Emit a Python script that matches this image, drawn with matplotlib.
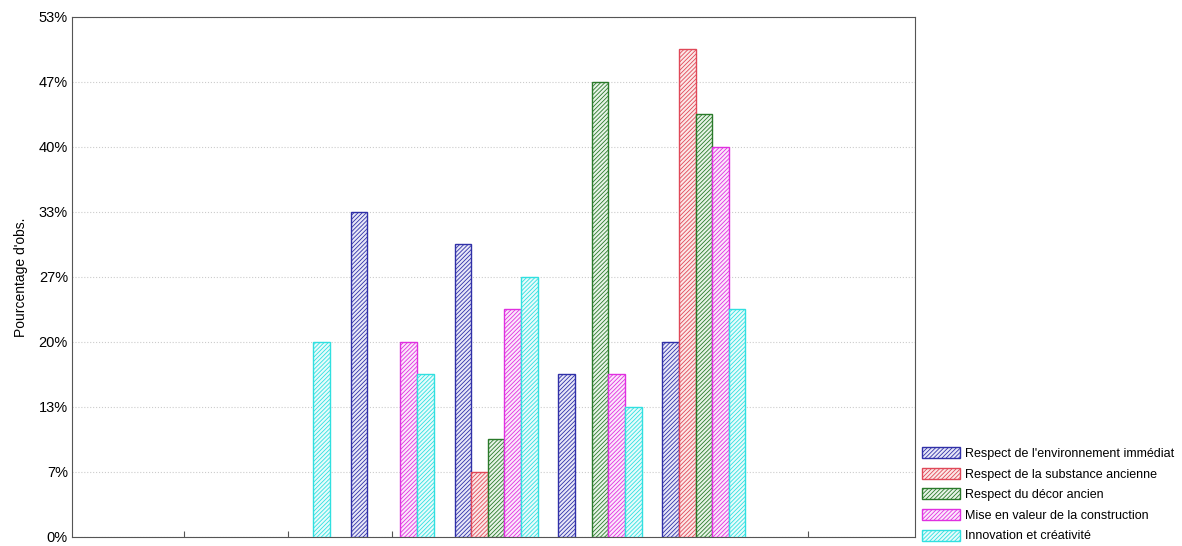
import numpy as np
import matplotlib
matplotlib.use("Agg")
import matplotlib.pyplot as plt

plt.rcParams['font.family'] = ['Liberation Sans', 'DejaVu Sans']
plt.rcParams['hatch.linewidth'] = 0.6

# category positions (7 ticks, the outer ones empty)
cats = [0, 1, 2, 3, 4, 5, 6]
series = ["Respect de l'environnement immédiat",
          "Respect de la substance ancienne",
          "Respect du décor ancien",
          "Mise en valeur de la construction",
          "Innovation et créativité"]
env   = [0, 0, 33.33, 30.00, 16.67, 20.00, 0]
subst = [0, 0, 0,     6.67,  0,     50.00, 0]
decor = [0, 0, 0,     10.00, 46.67, 43.33, 0]
mise  = [0, 0, 20.00, 23.33, 16.67, 40.00, 0]
innov = [0, 20.00, 16.67, 26.67, 13.33, 23.33, 0]
values = [env, subst, decor, mise, innov]
edge = ["#3030a8", "#e04858", "#2a7a2a", "#e030e0", "#30e0e0"]
face = ["#e8e8f8", "#fbe8e8", "#e8f4e8", "#fbe8fb", "#e8fbfb"]

fig = plt.figure(figsize=(11.82, 5.46), dpi=100)
ax = fig.add_axes([0.061, 0.0165, 0.713, 0.9525])

w = 0.16
x = np.array(cats)
for i, (name, v) in enumerate(zip(series, values)):
    v = np.array(v, dtype=float)
    m = v > 0
    ax.bar(x[m] + (i - 2) * w, v[m], width=w, facecolor=face[i], edgecolor=edge[i],
           hatch="////////", linewidth=1.0, label=name, zorder=3)

ax.set_xlim(-1.08, 7.03)
ax.set_ylim(0, 160 / 3)
yt = np.arange(9) * 20 / 3
ax.set_yticks(yt)
ax.set_yticklabels([f"{round(t)}%" for t in yt], fontsize=10.5)
ax.set_xticks(cats)
ax.set_xticklabels([])
ax.tick_params(axis="x", direction="in", length=4, color="#555555")
ax.tick_params(axis="y", length=0, pad=3)
ax.yaxis.grid(True, color="#cccccc", linestyle=":", linewidth=0.8, zorder=0)
for s in ax.spines.values():
    s.set_color("#555555")
ax.set_ylabel("Pourcentage d'obs.", fontsize=10, labelpad=8)

ax.legend(loc="lower left", bbox_to_anchor=(1.003, -0.02), frameon=False, fontsize=9,
          handlelength=3.0, handleheight=1.0, labelspacing=0.62, handletextpad=0.4,
          borderaxespad=0)

plt.savefig("out.png", dpi=100)
